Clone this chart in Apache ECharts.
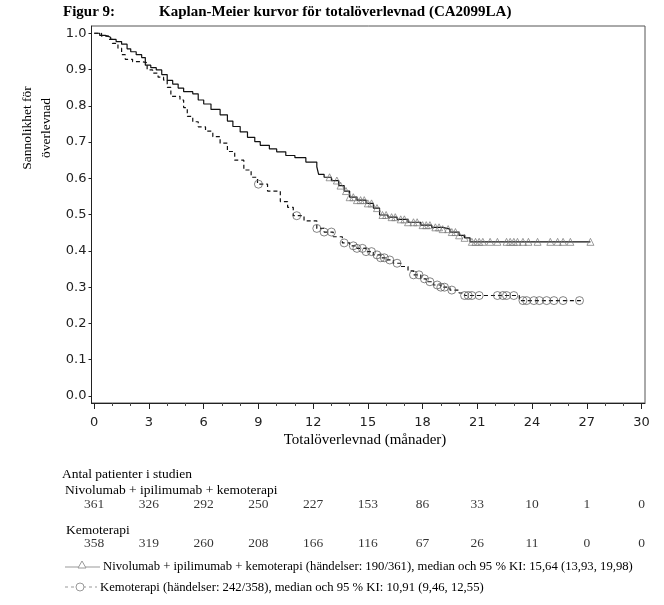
<!DOCTYPE html>
<html>
<head>
<meta charset="utf-8">
<script src="https://cdn.jsdelivr.net/npm/echarts@6/dist/echarts.min.js"></script>
<style>
html,body{margin:0;padding:0;background:#fff;}
#chart{width:664px;height:605px;}
</style>
</head>
<body>
<div id="chart"></div>
<script>
// KM steps [months, survival]
var nivoCurve = [
  [0,1.0],[0.3,0.994],[0.6,0.989],[0.9,0.983],[1.2,0.977],[1.5,0.970],[1.8,0.957],[2.0,0.949],
  [2.3,0.941],[2.6,0.933],[2.8,0.912],[3.1,0.905],[3.4,0.899],[3.7,0.886],[4.0,0.870],[4.3,0.860],
  [4.6,0.849],[4.9,0.839],[5.4,0.833],[5.7,0.816],[6.0,0.805],[6.4,0.790],[6.9,0.775],[7.3,0.758],
  [7.6,0.743],[8.0,0.728],[8.4,0.713],[8.8,0.701],[9.1,0.691],[9.6,0.681],[10.0,0.673],[10.5,0.663],
  [11.0,0.657],[11.6,0.645],[12.2,0.632],[12.3,0.611],[12.6,0.603],[13.0,0.594],[13.4,0.580],
  [13.7,0.565],[14.0,0.548],[14.4,0.540],[14.9,0.531],[15.3,0.518],[15.64,0.499],[16.1,0.493],
  [16.6,0.487],[17.2,0.479],[17.9,0.471],[18.5,0.465],[19.1,0.460],[19.5,0.452],[20.0,0.443],
  [20.3,0.436],[20.6,0.425],[27.2,0.425]
];
var kemoCurve = [
  [0,1.0],[0.4,0.992],[0.8,0.983],[1.0,0.972],[1.3,0.959],[1.5,0.941],[1.7,0.928],[2.1,0.922],
  [2.6,0.919],[2.9,0.899],[3.2,0.890],[3.5,0.879],[3.8,0.871],[4.0,0.851],[4.2,0.826],[4.7,0.816],
  [4.9,0.795],[5.1,0.771],[5.4,0.756],[5.7,0.742],[6.1,0.730],[6.5,0.715],[6.9,0.697],[7.3,0.674],
  [7.7,0.650],[8.2,0.623],[8.6,0.603],[8.95,0.584],[9.5,0.565],[10.2,0.536],[10.6,0.520],
  [10.91,0.497],[11.5,0.483],[12.2,0.462],[12.6,0.452],[13.1,0.439],[13.6,0.422],[14.0,0.414],
  [14.4,0.407],[14.9,0.398],[15.3,0.389],[15.7,0.381],[16.0,0.375],[16.4,0.366],[16.8,0.357],
  [17.2,0.345],[17.5,0.334],[17.9,0.323],[18.2,0.315],[18.6,0.306],[19.0,0.300],[19.5,0.292],
  [20.0,0.284],[20.3,0.277],[23.3,0.263],[26.7,0.263]
];
// censored times (months)
var nivoCensored = [12.9,13.3,13.5,13.8,14.0,14.2,14.4,14.6,14.8,15.0,15.2,15.5,15.8,16.0,16.3,
  16.5,16.8,17.0,17.2,17.5,17.7,18.0,18.2,18.4,18.7,18.9,19.1,19.4,19.6,19.8,20.0,20.3,20.7,20.9,
  21.1,21.3,21.7,22.1,22.6,22.8,23.0,23.2,23.5,23.8,24.3,25.0,25.4,25.7,26.1,27.2];
var kemoCensored = [9.0,11.1,12.2,12.6,13.0,13.7,14.2,14.4,14.7,14.9,15.2,15.5,15.7,15.9,16.2,
  16.6,17.5,17.8,18.1,18.4,18.8,19.0,19.2,19.6,20.3,20.5,20.7,21.1,22.1,22.4,22.6,23.0,23.5,23.7,
  24.1,24.4,24.8,25.2,25.7,26.6];

var riskTimes = [0,3,6,9,12,15,18,21,24,27,30];
var nivoAtRisk = [361,326,292,250,227,153,86,33,10,1,0];
var kemoAtRisk = [358,319,260,208,166,116,67,26,11,0,0];
var xMinor = [1,2,4,5,7,8,10,11,13,14,16,17,19,20,22,23,25,26,28,29];
var yTicks = [0,0.1,0.2,0.3,0.4,0.5,0.6,0.7,0.8,0.9,1.0];

var serif = '"Liberation Serif", "Times New Roman", serif';
var sans = '"DejaVu Sans", sans-serif';

function stepAt(curve, t) {
  var s = curve[0][1];
  for (var i = 0; i < curve.length; i++) {
    if (curve[i][0] <= t) s = curve[i][1];
  }
  return s;
}

var chart = echarts.init(document.getElementById('chart'), null, {renderer: 'canvas'});
var xMin = -0.15, xMax = 30.19;

var option = {
  animation: false,
  grid: [
    {left: 91.5, right: 19, top: 26, bottom: 202, show: true, borderColor: '#555', borderWidth: 1},
    {left: 91.5, right: 19, top: 484.5, height: 78}
  ],
  xAxis: [
    {
      gridIndex: 0, type: 'value', position: 'bottom', min: xMin, max: xMax,
      axisLine: {show: true, onZero: false, lineStyle: {color: '#222', width: 1}},
      axisTick: {show: true, customValues: riskTimes, length: 6, lineStyle: {color: '#222'}},
      axisLabel: {customValues: riskTimes, margin: 13, color: '#222', fontFamily: sans, fontSize: 13},
      splitLine: {show: false}
    },
    {
      gridIndex: 0, type: 'value', position: 'bottom', min: xMin, max: xMax,
      axisLine: {show: false, onZero: false},
      axisTick: {show: true, customValues: xMinor, length: 3, lineStyle: {color: '#444'}},
      axisLabel: {show: false},
      splitLine: {show: false}
    },
    {gridIndex: 1, type: 'value', min: xMin, max: xMax, show: false}
  ],
  yAxis: [
    {
      gridIndex: 0, type: 'value', min: -0.0193, max: 1.02,
      axisLine: {show: true, onZero: false, lineStyle: {color: '#222', width: 1}},
      axisTick: {show: true, customValues: yTicks, length: 3, lineStyle: {color: '#222'}},
      axisLabel: {customValues: yTicks, margin: 5, color: '#222', fontFamily: sans, fontSize: 13,
        formatter: function (v) { return v.toFixed(1); }},
      splitLine: {show: false}
    },
    {gridIndex: 1, type: 'category', data: ['nivo', 'kemo'], inverse: true, show: false}
  ],
  series: [
    {
      type: 'line', step: 'end', data: nivoCurve, showSymbol: false, xAxisIndex: 0, yAxisIndex: 0,
      lineStyle: {color: '#111', width: 1.2}, z: 2
    },
    {
      type: 'line', step: 'end', data: kemoCurve, showSymbol: false, xAxisIndex: 0, yAxisIndex: 0,
      lineStyle: {color: '#111', width: 1.2, type: [4, 3]}, z: 2
    },
    {
      type: 'scatter', xAxisIndex: 0, yAxisIndex: 0, symbol: 'triangle', symbolSize: 7,
      data: nivoCensored.map(function (t) { return [t, stepAt(nivoCurve, t)]; }),
      itemStyle: {color: 'rgba(0,0,0,0)', borderColor: '#777', borderWidth: 0.9}, z: 3
    },
    {
      type: 'scatter', xAxisIndex: 0, yAxisIndex: 0, symbol: 'circle', symbolSize: 8,
      data: kemoCensored.map(function (t) { return [t, stepAt(kemoCurve, t)]; }),
      itemStyle: {color: 'rgba(0,0,0,0)', borderColor: '#555', borderWidth: 0.9}, z: 3
    },
    {
      type: 'scatter', xAxisIndex: 2, yAxisIndex: 1, symbolSize: 0,
      data: riskTimes.map(function (t, i) { return [t, 'nivo', nivoAtRisk[i]]; }),
      label: {show: true, position: 'inside', color: '#000', fontFamily: serif, fontSize: 13.5,
        formatter: function (p) { return p.value[2]; }}
    },
    {
      type: 'scatter', xAxisIndex: 2, yAxisIndex: 1, symbolSize: 0,
      data: riskTimes.map(function (t, i) { return [t, 'kemo', kemoAtRisk[i]]; }),
      label: {show: true, position: 'inside', color: '#000', fontFamily: serif, fontSize: 13.5,
        formatter: function (p) { return p.value[2]; }}
    }
  ],
  graphic: [
    {type: 'text', left: 63, top: 5, style: {text: 'Figur 9:', font: 'bold 15px ' + serif, fill: '#000'}},
    {type: 'text', left: 159, top: 5, style: {text: 'Kaplan-Meier kurvor för totalöverlevnad (CA2099LA)', font: 'bold 15px ' + serif, fill: '#000'}},
    {type: 'text', x: 37, y: 128, rotation: Math.PI / 2,
      style: {text: 'Sannolikhet för\növerlevnad', font: '13.5px ' + serif, fill: '#000', align: 'center', verticalAlign: 'middle', lineHeight: 19}},
    {type: 'text', x: 365, y: 440,
      style: {text: 'Totalöverlevnad (månader)', font: '15px ' + serif, fill: '#000', align: 'center', verticalAlign: 'middle'}},
    {type: 'text', x: 62, y: 474,
      style: {text: 'Antal patienter i studien', font: '13.5px ' + serif, fill: '#000', verticalAlign: 'middle'}},
    {type: 'text', x: 65, y: 490,
      style: {text: 'Nivolumab + ipilimumab + kemoterapi', font: '13.5px ' + serif, fill: '#000', verticalAlign: 'middle'}},
    {type: 'text', x: 66, y: 530,
      style: {text: 'Kemoterapi', font: '13.5px ' + serif, fill: '#000', verticalAlign: 'middle'}},
    // legend
    {type: 'line', shape: {x1: 65, y1: 567, x2: 100, y2: 567}, style: {stroke: '#999', lineWidth: 1}},
    {type: 'polygon', shape: {points: [[82, 561], [78, 568], [86, 568]]}, style: {fill: '#fff', stroke: '#999', lineWidth: 1}},
    {type: 'text', x: 103, y: 567,
      style: {text: 'Nivolumab + ipilimumab + kemoterapi (händelser: 190/361), median och 95 % KI: 15,64 (13,93, 19,98)', font: '12.7px ' + serif, fill: '#000', verticalAlign: 'middle'}},
    {type: 'line', shape: {x1: 65, y1: 587, x2: 97, y2: 587}, style: {stroke: '#999', lineWidth: 1, lineDash: [3, 3]}},
    {type: 'circle', shape: {cx: 80, cy: 587, r: 4}, style: {fill: '#fff', stroke: '#999', lineWidth: 1}},
    {type: 'text', x: 100, y: 588,
      style: {text: 'Kemoterapi (händelser: 242/358), median och 95 % KI: 10,91 (9,46, 12,55)', font: '12.7px ' + serif, fill: '#000', verticalAlign: 'middle'}}
  ]
};
chart.setOption(option);
</script>
</body>
</html>
